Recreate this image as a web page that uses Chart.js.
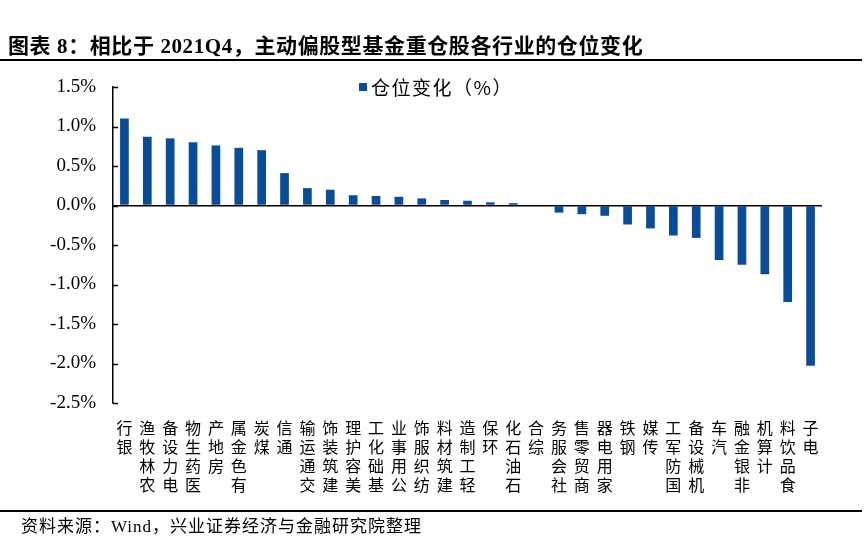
<!DOCTYPE html>
<html>
<head>
<meta charset="utf-8">
<script src="https://cdn.jsdelivr.net/npm/chart.js@4.4.1/dist/chart.umd.min.js"></script>
<style>
  body { margin: 0; background: #fff; }
  #wrap { position: relative; width: 868px; height: 549px; overflow: hidden; }
  #chart { position: absolute; left: 0; top: 0; }
  .title { position: absolute; left: 8px; top: 29px; font: bold 21px "Liberation Serif", "Noto Sans CJK SC"; letter-spacing: 0.6px; color: #000; white-space: nowrap; }
  .rule { position: absolute; left: 0; width: 862px; height: 1.5px; background: #000; }
  .src { position: absolute; left: 21px; top: 512px; font: 17px "Liberation Serif", "Noto Sans CJK SC"; letter-spacing: 1px; color: #000; white-space: nowrap; }
  .legend { position: absolute; left: 359px; top: 73px; font: 19px "Noto Sans CJK SC"; letter-spacing: 1.5px; color: #000; white-space: nowrap; }
  .legend i { display: inline-block; width: 8px; height: 8px; background: #0A4C98; margin-right: 4px; vertical-align: 4px; }
</style>
</head>
<body>
<div id="wrap">
  <canvas id="chart" width="868" height="549"></canvas>
  <div class="title">图表 8：相比于 2021Q4，主动偏股型基金重仓股各行业的仓位变化</div>
  <div class="rule" style="top:59px"></div>
  <div class="legend"><i></i>仓位变化（%）</div>
  <div class="rule" style="top:510px"></div>
  <div class="src">资料来源：Wind，兴业证券经济与金融研究院整理</div>
</div>
<script>
const industries = ['银行','农林牧渔','电力设备','医药生物','房地产','有色金属','煤炭','通信','交通运输','建筑装饰',
  '美容护理','基础化工','公用事业','纺织服饰','建筑材料','轻工制造','环保','石油石化','综合','社会服务',
  '商贸零售','家用电器','钢铁','传媒','国防军工','机械设备','汽车','非银金融','计算机','食品饮料','电子']
const positionChange = [1.10, 0.87, 0.85, 0.80, 0.76, 0.73, 0.70, 0.41, 0.22, 0.20,
  0.13, 0.12, 0.11, 0.09, 0.07, 0.06, 0.04, 0.03, 0.00, -0.09,
  -0.11, -0.13, -0.24, -0.29, -0.38, -0.41, -0.69, -0.75, -0.87, -1.22, -2.03]
const yMin = -2.5, yMax = 1.5, yStep = 0.5

// labels read bottom-up with upright glyphs, so stack chars reversed
const stackedLabels = industries.map(s => s.split('').reverse())

const innerTicks = {
  id: 'innerTicks',
  afterDraw(chart) {
    const y = chart.scales.y, ctx = chart.ctx, left = chart.chartArea.left
    ctx.save()
    ctx.strokeStyle = '#000'
    ctx.lineWidth = 1.5
    y.ticks.forEach((t, i) => {
      const py = Math.round(y.getPixelForTick(i)) + 0.5
      ctx.beginPath()
      ctx.moveTo(left, py)
      ctx.lineTo(left + 5, py)
      ctx.stroke()
    })
    ctx.restore()
  }
}

new Chart(document.getElementById('chart'), {
  type: 'bar',
  data: {
    labels: stackedLabels,
    datasets: [{
      label: '仓位变化（%）',
      data: positionChange,
      backgroundColor: '#0A4C98',
      barPercentage: 0.38,
      categoryPercentage: 1
    }]
  },
  options: {
    responsive: false,
    animation: false,
    layout: { padding: { top: 87, right: 46, left: 0, bottom: 0 } },
    plugins: { legend: { display: false }, tooltip: { enabled: false } },
    scales: {
      x: {
        grid: { display: false },
        border: { display: false },
        afterFit(scale) { scale.height = 146 },
        ticks: {
          autoSkip: false, maxRotation: 0, minRotation: 0, padding: 8,
          color: '#000',
          font: { family: 'Noto Sans CJK SC', size: 16, lineHeight: 1.17 }
        }
      },
      y: {
        min: yMin, max: yMax,
        afterFit(scale) { scale.width = 113 },
        border: { display: true, color: '#000', width: 1.5 },
        grid: {
          drawTicks: false,
          lineWidth: 1.5,
          color: ctx => (ctx.tick && ctx.tick.value === 0) ? '#000' : 'rgba(0,0,0,0)'
        },
        ticks: {
          stepSize: yStep, padding: 17, color: '#000',
          font: { family: 'Liberation Serif', size: 19 },
          callback: v => v.toFixed(1) + '%'
        }
      }
    }
  },
  plugins: [innerTicks]
})
</script>
</body>
</html>
